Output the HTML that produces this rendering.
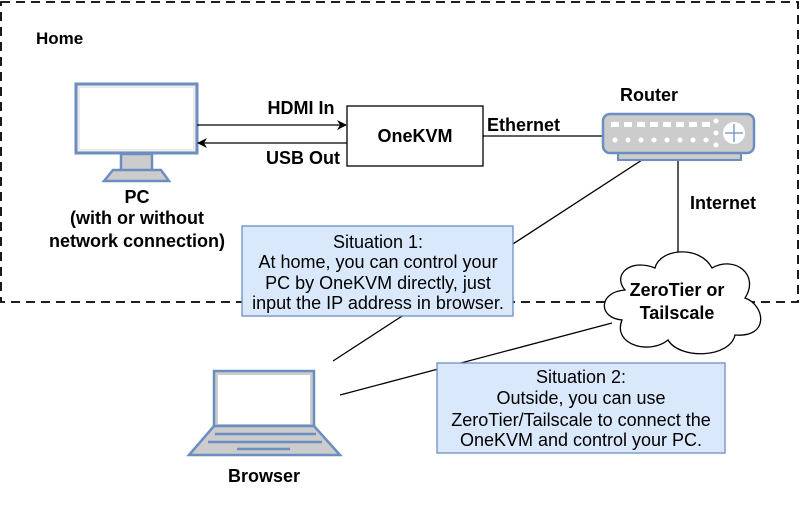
<!DOCTYPE html>
<html><head><style>
body{margin:0;background:#fff;}
svg text{font-family:"Liberation Sans",Arial,sans-serif;}
</style></head><body>
<svg width="800" height="500" viewBox="0 0 800 500" xmlns="http://www.w3.org/2000/svg">
<defs><marker id="ar" markerWidth="10" markerHeight="10" refX="9" refY="5" orient="auto" markerUnits="userSpaceOnUse"><path d="M0,0 L10,5 L0,10 L3,5 Z" fill="#000"/></marker></defs>
<rect x="1" y="2" width="797" height="300" fill="none" stroke="#000" stroke-width="1.8" stroke-dasharray="9,6"/>
<text x="36" y="44" font-size="17" font-weight="bold">Home</text>
<!-- monitor -->
<rect x="76" y="84" width="121" height="69" fill="#ebebeb" stroke="#6c8ebf" stroke-width="3"/>
<rect x="80" y="88" width="113" height="61" fill="#fff"/>
<rect x="121" y="154" width="31" height="17" fill="#ccc" stroke="#6c8ebf" stroke-width="2.5"/>
<path d="M104,181 L113,170 L161,170 L169,181 Z" fill="#ccc" stroke="#6c8ebf" stroke-width="2.5"/>
<g font-size="18" font-weight="bold" text-anchor="middle">
<text x="137" y="203">PC</text>
<text x="137" y="224">(with or without</text>
<text x="137" y="247">network connection)</text>
</g>
<!-- arrows -->
<line x1="197" y1="125" x2="346" y2="125" stroke="#000" stroke-width="1.3" marker-end="url(#ar)"/>
<line x1="347" y1="143" x2="198" y2="143" stroke="#000" stroke-width="1.3" marker-end="url(#ar)"/>
<text x="301" y="114" font-size="18" font-weight="bold" text-anchor="middle">HDMI In</text>
<text x="303" y="164" font-size="18" font-weight="bold" text-anchor="middle">USB Out</text>
<rect x="347" y="106" width="136" height="60" fill="#fff" stroke="#000" stroke-width="1.3"/>
<text x="415" y="142" font-size="18" font-weight="bold" text-anchor="middle">OneKVM</text>
<line x1="483" y1="136" x2="603" y2="136" stroke="#000" stroke-width="1.3"/>
<text x="487" y="131" font-size="18" font-weight="bold">Ethernet</text>
<!-- router lines -->
<line x1="642" y1="160" x2="333" y2="361" stroke="#000" stroke-width="1.3"/>
<line x1="678" y1="160" x2="678" y2="255" stroke="#000" stroke-width="1.3"/>
<line x1="612" y1="323" x2="340" y2="395" stroke="#000" stroke-width="1.3"/>
<!-- router -->
<rect x="618" y="152" width="123" height="8" fill="#ccc" stroke="#6c8ebf" stroke-width="2"/>
<rect x="603" y="114" width="151" height="39" rx="7" fill="#ccc" stroke="#6c8ebf" stroke-width="2.5"/>
<g fill="#fff">
<rect x="611" y="122" width="8" height="5"/><rect x="624" y="122" width="8" height="5"/><rect x="637" y="122" width="8" height="5"/><rect x="650" y="122" width="8" height="5"/><rect x="663" y="122" width="8" height="5"/><rect x="676" y="122" width="8" height="5"/><rect x="689" y="122" width="8" height="5"/><rect x="702" y="122" width="8" height="5"/>
<circle cx="615" cy="140" r="2.5"/><circle cx="628" cy="140" r="2.5"/><circle cx="641" cy="140" r="2.5"/><circle cx="654" cy="140" r="2.5"/><circle cx="667" cy="140" r="2.5"/><circle cx="680" cy="140" r="2.5"/><circle cx="693" cy="140" r="2.5"/><circle cx="706" cy="140" r="2.5"/>
<circle cx="716" cy="121" r="2.5"/><circle cx="716" cy="133" r="2.5"/><circle cx="716" cy="145" r="2.5"/>
<circle cx="734" cy="133" r="11"/></g>
<path d="M734,124 V142 M725,133 H743" stroke="#6c8ebf" stroke-width="1.3"/>
<text x="649" y="101" font-size="18" font-weight="bold" text-anchor="middle">Router</text>
<text x="690" y="209" font-size="18" font-weight="bold">Internet</text>
<!-- Situation 1 -->
<rect x="242" y="226" width="271" height="90" fill="#dae8fc" stroke="#6c8ebf" stroke-width="1.3"/>
<g font-size="18" text-anchor="middle"><text x="378" y="248">Situation 1:</text><text x="378" y="268">At home, you can control your</text><text x="378" y="289">PC by OneKVM directly, just</text><text x="378" y="309">input the IP address in browser.</text></g>
<!-- cloud -->
<path d="M625,290 C598,292 598,318 622,320 C612,345 650,355 668,340 C680,360 730,358 735,335 C770,338 765,305 745,298 C760,275 735,255 712,268 C700,245 660,248 655,268 C630,258 612,275 625,290 Z" fill="#fff" stroke="#000" stroke-width="1.3"/>
<text x="677" y="296" font-size="18" font-weight="bold" text-anchor="middle">ZeroTier or</text>
<text x="677" y="319" font-size="18" font-weight="bold" text-anchor="middle">Tailscale</text>
<!-- Situation 2 -->
<rect x="437" y="363" width="288" height="90" fill="#dae8fc" stroke="#6c8ebf" stroke-width="1.3"/>
<g font-size="18" text-anchor="middle"><text x="581" y="383">Situation 2:</text><text x="581" y="404">Outside, you can use</text><text x="581" y="426">ZeroTier/Tailscale to connect the</text><text x="581" y="446">OneKVM and control your PC.</text></g>
<!-- laptop -->
<path d="M214,426 L214,371 L314,371 L314,426" fill="#ccc" stroke="#6c8ebf" stroke-width="2.5"/>
<rect x="218" y="375" width="92" height="49" fill="#fff"/>
<path d="M189,455 L214,426 L314,426 L340,455 Z" fill="#ccc" stroke="#6c8ebf" stroke-width="2.5"/>
<line x1="215" y1="434" x2="316" y2="434" stroke="#6c8ebf" stroke-width="2.5"/>
<line x1="208" y1="442" x2="322" y2="442" stroke="#6c8ebf" stroke-width="2.5"/>
<line x1="237" y1="449" x2="290" y2="449" stroke="#6c8ebf" stroke-width="2.5"/>
<text x="264" y="482" font-size="18" font-weight="bold" text-anchor="middle">Browser</text>
</svg>
</body></html>
